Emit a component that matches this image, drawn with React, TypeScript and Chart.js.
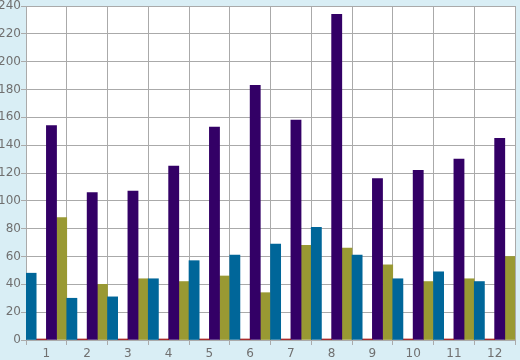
import React, { useEffect, useRef } from "react";
import { Chart, registerables } from "chart.js";

Chart.register(...registerables);

const categories = ["1", "2", "3", "4", "5", "6", "7", "8", "9", "10", "11", "12"];
const blueValues = [48, 30, 31, 44, 57, 61, 69, 81, 61, 44, 49, 42];
const redValues = [0.7, 0.7, 0.7, 0.7, 0.7, 0.7, 0.7, 0.7, 0.7, 0.7, 0.7, 0.7];
const purpleValues = [154, 106, 107, 125, 153, 183, 158, 234, 116, 122, 130, 145];
const oliveValues = [88, 40, 44, 42, 46, 34, 68, 66, 54, 42, 44, 60];

const plotBg = {
  id: "plotBg",
  beforeDraw(chart: any) {
    const { ctx, chartArea } = chart;
    ctx.save();
    ctx.fillStyle = "#ffffff";
    ctx.fillRect(chartArea.left, chartArea.top, chartArea.right - chartArea.left, chartArea.bottom - chartArea.top);
    ctx.restore();
  },
};

export default function App() {
  const ref = useRef<HTMLCanvasElement>(null);
  useEffect(() => {
    document.body.style.margin = "0";
    const font = { family: "DejaVu Sans", size: 12, lineHeight: 1 };
    const chart = new Chart(ref.current!, {
      type: "bar",
      data: {
        labels: categories,
        datasets: [
          { data: blueValues, backgroundColor: "#006699" },
          { data: redValues, backgroundColor: "#990000" },
          { data: purpleValues, backgroundColor: "#330066" },
          { data: oliveValues, backgroundColor: "#999933" },
        ],
      },
      options: {
        animation: false,
        responsive: false,
        maintainAspectRatio: false,
        layout: { padding: { top: 5, right: 5, left: 0, bottom: 0 } },
        plugins: { legend: { display: false }, tooltip: { enabled: false } },
        datasets: { bar: { categoryPercentage: 1, barPercentage: 1 } },
        scales: {
          x: {
            offset: true,
            grid: { offset: true, color: "#aaaaaa", tickLength: 5, lineWidth: 1 },
            border: { color: "#aaaaaa" },
            ticks: { color: "#707070", font, padding: 3, maxRotation: 0 },
            afterFit(scale: any) {
              scale.height = 20;
            },
          },
          y: {
            min: 0,
            max: 240,
            grid: { color: "#aaaaaa", tickLength: 5, lineWidth: 1 },
            border: { color: "#aaaaaa" },
            ticks: { stepSize: 10, color: "#707070", font, padding: 0 },
            afterFit(scale: any) {
              scale.width = 26;
            },
          },
        },
      },
      plugins: [plotBg],
    });
    return () => chart.destroy();
  }, []);
  return (
    <div style={{ position: "fixed", left: 0, top: 0, width: 520, height: 360, background: "#d9eef5" }}>
      <canvas ref={ref} width={520} height={360} style={{ width: 520, height: 360, display: "block" }} />
    </div>
  );
}
